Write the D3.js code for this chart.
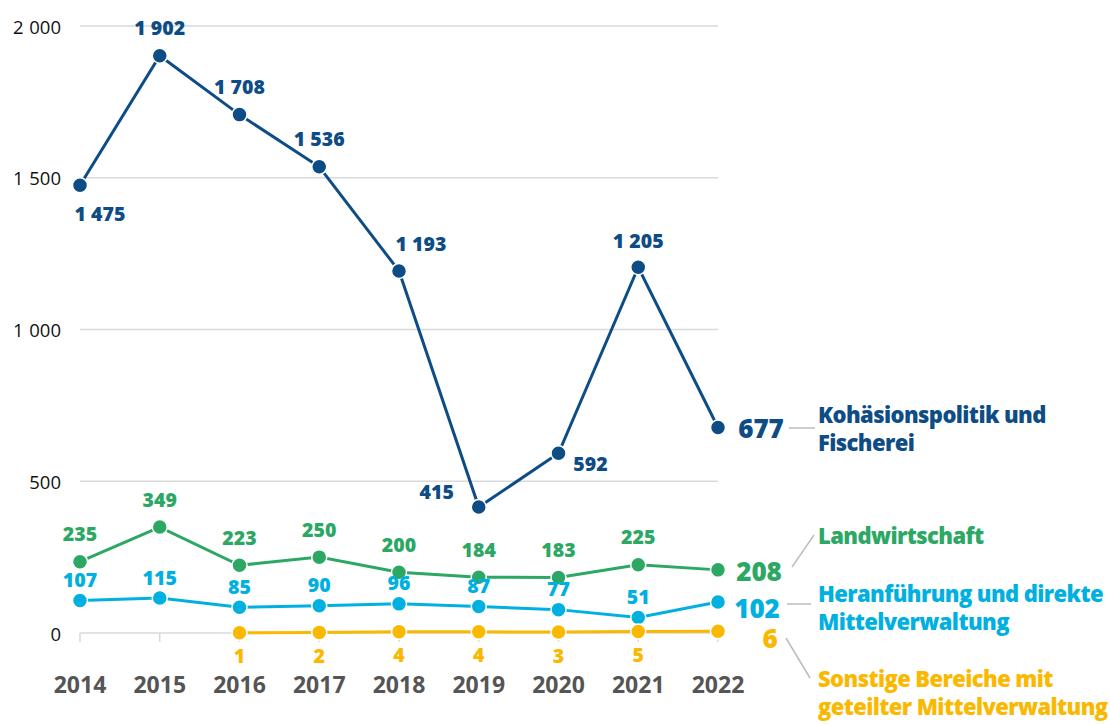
<!DOCTYPE html>
<html><head><meta charset="utf-8">
<script src="https://cdn.jsdelivr.net/npm/d3@7"></script>
<style>
body{margin:0;background:#fff;}
svg{display:block;font-family:"Open Sans",sans-serif;}
</style></head>
<body><svg id="c" width="1110" height="724"></svg>
<script>
const years = [2014, 2015, 2016, 2017, 2018, 2019, 2020, 2021, 2022];
const kohaesion = [1475, 1902, 1708, 1536, 1193, 415, 592, 1205, 677];
const landwirtschaft = [235, 349, 223, 250, 200, 184, 183, 225, 208];
const heranfuehrung = [107, 115, 85, 90, 96, 87, 77, 51, 102];
const sonstige = [null, null, 1, 2, 4, 4, 3, 5, 6];
const yTicks = [0, 500, 1000, 1500, 2000];
const seriesNames = [
  ["Kohäsionspolitik und", "Fischerei"],
  ["Landwirtschaft"],
  ["Heranführung und direkte", "Mittelverwaltung"],
  ["Sonstige Bereiche mit", "geteilter Mittelverwaltung"]
];

const fmt = v => String(v).replace(/\B(?=(\d{3})+(?!\d))/g, " ");

const svg = d3.select("#c");
const x = d3.scalePoint().domain(years).range([80, 718]);
const y = d3.scaleLinear().domain([0, 2000]).range([633, 26]);

// grid
svg.append("g").selectAll("line").data(yTicks).join("line")
  .attr("x1", 80).attr("x2", 718)
  .attr("y1", d => y(d)).attr("y2", d => y(d))
  .attr("stroke", "#d9d9d9").attr("stroke-width", 1.5);
// y labels
svg.append("g").selectAll("text").data(yTicks).join("text")
  .attr("x", 61).attr("y", d => y(d)).attr("text-anchor", "end")
  .attr("dominant-baseline", "central")
  .attr("font-size", 18.5).attr("fill", "#111").attr("word-spacing", 1)
  .text(d => fmt(d));
// x ticks
svg.append("g").selectAll("line").data(years).join("line")
  .attr("x1", d => x(d)).attr("x2", d => x(d))
  .attr("y1", 633).attr("y2", 642)
  .attr("stroke", "#d9d9d9").attr("stroke-width", 1.5);
svg.append("g").selectAll("text").data(years).join("text")
  .attr("x", d => x(d)).attr("y", 684).attr("text-anchor", "middle")
  .attr("dominant-baseline", "central")
  .attr("font-size", 23).attr("font-weight", 700).attr("fill", "#555")
  .text(d => d);

const series = [
  {vals: kohaesion, color: "#0e4c86",
   off: [[20,28],[0,-28],[0,-28],[0,-28],[22,-27],[-42,-16],[32,10],[0,-27]],
   end: {dx: 43, dy: 0}, conn: [[789,428],[815,428]], name: {x: 818, y: 423}},
  {vals: landwirtschaft, color: "#2ca864",
   off: Array(8).fill([0,-28]),
   end: {dx: 41, dy: 1}, conn: [[792,567],[814,535]], name: {x: 818, y: 544}},
  {vals: heranfuehrung, color: "#00b0e0",
   off: Array(8).fill([0,-21]),
   end: {dx: 39, dy: 6}, conn: [[787,604],[811,604]], name: {x: 818, y: 602}},
  {vals: sonstige, color: "#fbb800",
   off: Array(8).fill([0,23]),
   end: {dx: 52, dy: 7}, conn: [[786,638],[810,678]], name: {x: 818, y: 687}}
];

series.forEach((s, si) => {
  const pts = years.map((yr, i) => ({yr, v: s.vals[i], i})).filter(d => d.v != null);
  const line = d3.line().x(d => x(d.yr)).y(d => y(d.v));
  const g = svg.append("g");
  g.append("path").datum(pts).attr("d", line)
    .attr("fill", "none").attr("stroke", s.color).attr("stroke-width", 3);
  g.selectAll("circle").data(pts).join("circle")
    .attr("cx", d => x(d.yr)).attr("cy", d => y(d.v)).attr("r", 7.5)
    .attr("fill", s.color).attr("stroke", "#fff").attr("stroke-width", 1.5);
  const last = pts[pts.length - 1];
  g.selectAll("text.lbl").data(pts.slice(0, -1)).join("text")
    .attr("class", "lbl")
    .attr("x", d => x(d.yr) + s.off[d.i][0])
    .attr("y", d => y(d.v) + s.off[d.i][1])
    .attr("text-anchor", "middle").attr("dominant-baseline", "central")
    .attr("font-size", 19.5).attr("font-weight", 800).attr("fill", s.color)
    .text(d => fmt(d.v));
  g.append("text")
    .attr("x", x(last.yr) + s.end.dx).attr("y", y(last.v) + s.end.dy)
    .attr("text-anchor", "middle").attr("dominant-baseline", "central")
    .attr("font-size", 26).attr("font-weight", 800).attr("fill", s.color)
    .text(fmt(last.v));
  g.append("line")
    .attr("x1", s.conn[0][0]).attr("y1", s.conn[0][1])
    .attr("x2", s.conn[1][0]).attr("y2", s.conn[1][1])
    .attr("stroke", "#bdbdbd").attr("stroke-width", 1.5);
  const t = g.append("text").attr("x", s.name.x).attr("y", s.name.y)
    .attr("font-size", 22).attr("font-weight", 800).attr("fill", s.color)
    .attr("letter-spacing", -0.6);
  seriesNames[si].forEach((ln, k) => {
    t.append("tspan").attr("x", s.name.x).attr("y", s.name.y + k * 28).text(ln);
  });
});
</script></body></html>
